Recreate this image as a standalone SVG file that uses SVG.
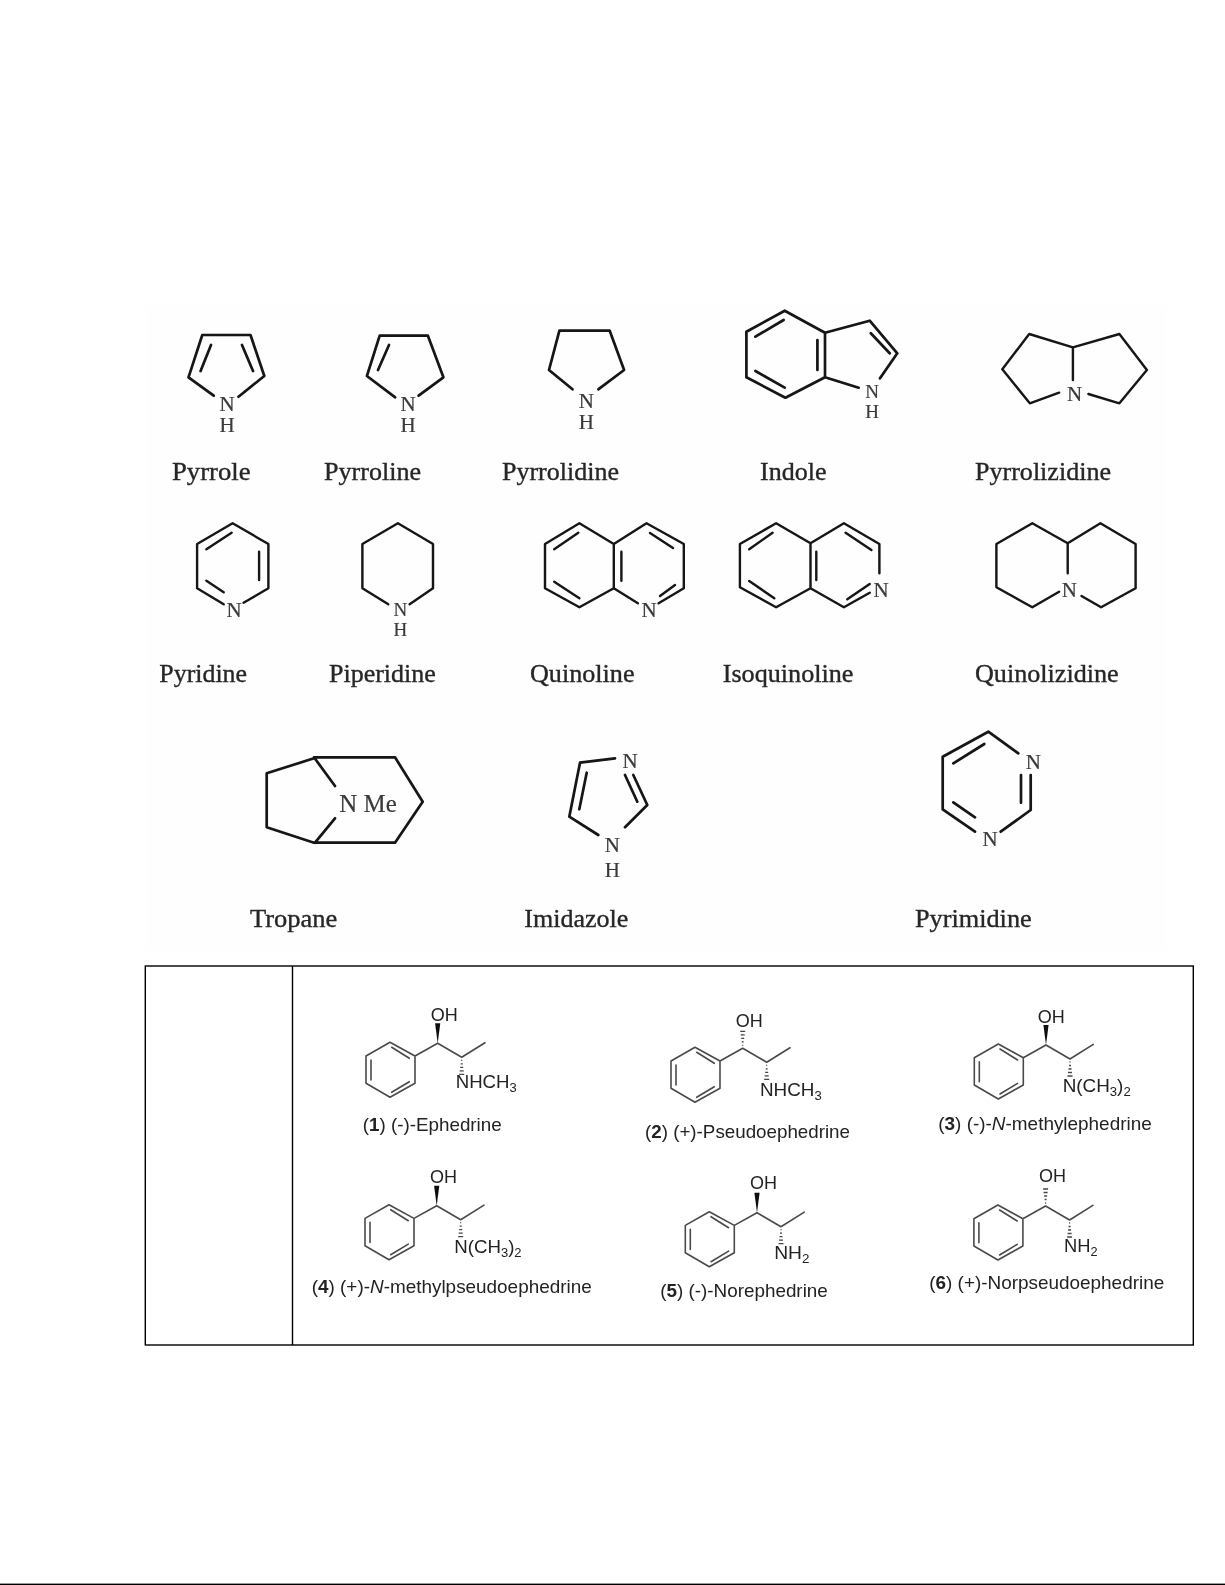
<svg xmlns="http://www.w3.org/2000/svg" width="1225" height="1585" viewBox="0 0 1225 1585">
<style>
.b{fill:none;stroke:#141414;stroke-width:2.7;stroke-linejoin:round;stroke-linecap:round}
.t{stroke-width:2.4}
.a{font-family:"Liberation Serif","Times New Roman",serif;fill:#3a3a3a;stroke:#3a3a3a;stroke-width:.2;font-size:21px;text-anchor:middle}
.a2{font-size:19px}
.l{font-family:"Liberation Serif","Times New Roman",serif;fill:#262626;stroke:#262626;stroke-width:.35;font-size:25px}
.m{fill:none;stroke:#4a4a4a;stroke-width:1.6;stroke-linejoin:round;stroke-linecap:round}
.h{fill:none;stroke:#444;stroke-width:1.3}
.s{font-family:"Liberation Sans",Arial,sans-serif;fill:#222;font-size:18.5px}
.c{font-family:"Liberation Sans",Arial,sans-serif;fill:#222;font-size:18px}
.g{fill:none;stroke:#000;stroke-width:1.4}
</style>
<defs>
<filter id="soft" x="-2%" y="-2%" width="104%" height="104%"><feGaussianBlur stdDeviation="0.5"/></filter>
<g id="ph">
<path class="m" d="M-22.7 12.7L-47.7-1L-71.7 12.7V40L-47.7 54L-22.7 40ZL0 0L24 14L47.3-.6"/>
<path class="m" d="M-46 4L-28.4 15M-66.7 16.7V36.7M-46 49L-28.4 38.4"/>
</g>
<polygon id="wedge" points="0,0 -2.6,-20 2.6,-20" fill="#111"/>
<g id="hash"><path class="h" d="M-.5 3H.5M-1 6.5H1M-1.5 10H1.5M-2 13.5H2M-2.5 17H2.5"/></g>
</defs>
<rect width="1225" height="1585" fill="#fff"/>
<rect x="146" y="306" width="1020" height="644" fill="#fefefe"/>
<g filter="url(#soft)">
<g id="pyrrole">
<path class="b" d="M213.7 395.7L188.5 377.3L202.3 335H250.5L264.3 376L238.5 396.7M211 345L200.6 371M242 345L253 371"/>
<text class="a" x="227" y="411">N</text><text class="a" x="227" y="432">H</text>
<text class="l" x="172" y="480" textLength="78.5" lengthAdjust="spacingAndGlyphs">Pyrrole</text>
</g>
<g id="pyrroline">
<path class="b" d="M395.2 397.3L366.9 376L379.7 335.7H427.9L443.4 377.3L418.6 395.7M389 345L378 370"/>
<text class="a" x="408" y="411">N</text><text class="a" x="408" y="432">H</text>
<text class="l" x="324" y="480" textLength="97" lengthAdjust="spacingAndGlyphs">Pyrroline</text>
</g>
<g id="pyrrolidine">
<path class="b" d="M572.5 389.3L549 370L559.4 330.7H609.7L624.1 370L598.3 389.3"/>
<text class="a" x="586.3" y="408">N</text><text class="a" x="586.3" y="429">H</text>
<text class="l" x="502" y="480" textLength="117" lengthAdjust="spacingAndGlyphs">Pyrrolidine</text>
</g>
<g id="indole">
<path class="b" d="M825 332.7L784.7 310.7L746.4 331.7V377.3L785.4 397.7L825 377.3ZL869.7 320.7L897.3 353.3L880 378.3M825 377.3L858.7 387.7M783.6 320L755.4 336.7M755.4 371L784.7 387.7M817.4 340V370M870.8 333.3L889.7 353.3"/>
<text class="a a2" x="872" y="398">N</text><text class="a a2" x="872" y="418">H</text>
<text class="l" x="760" y="480" textLength="66.5" lengthAdjust="spacingAndGlyphs">Indole</text>
</g>
<g id="pyrrolizidine">
<path class="b t" d="M1059.1 392.7L1029.8 403.3L1002.3 369.3L1029.2 334L1072.9 347.3L1119.4 334L1146.9 370L1119.4 403.3L1088.4 394M1072.9 347.3V380"/>
<text class="a" x="1074.6" y="401">N</text>
<text class="l" x="975" y="480" textLength="136" lengthAdjust="spacingAndGlyphs">Pyrrolizidine</text>
</g>
<g id="pyridine">
<path class="b t" d="M223.7 604.3L197.1 588.3V544L232.6 523.3L268.4 544V588.3L243.6 602.7M231.6 532.7L206.4 549.3M259.1 551.7V580M206.4 580.7L223.7 592.3"/>
<text class="a" x="234" y="616.5">N</text>
<text class="l" x="159.3" y="681.7" textLength="87.7" lengthAdjust="spacingAndGlyphs">Pyridine</text>
</g>
<g id="piperidine">
<path class="b t" d="M388.3 604.3L362.4 588.3V544L397.9 523.3L433 544V588.3L409.6 604.3"/>
<text class="a a2" x="400.3" y="616">N</text><text class="a a2" x="400.3" y="636">H</text>
<text class="l" x="329" y="681.7" textLength="106.8" lengthAdjust="spacingAndGlyphs">Piperidine</text>
</g>
<g id="quinoline">
<path class="b t" d="M613.8 544L579.4 523.3L545 544V588.3L579.4 607.3L613.8 588.3ZL646.5 523.3L683.8 544V588.3L658.6 603.3M613.8 588.3L637.9 603.3M578.3 532.7L554.2 549.3M554.2 581.7L579.4 598.3M621.4 551.7V580.7M650 533L673 548M660 596L675 585"/>
<text class="a" x="649" y="617">N</text>
<text class="l" x="530" y="681.7" textLength="104.5" lengthAdjust="spacingAndGlyphs">Quinoline</text>
</g>
<g id="isoquinoline">
<path class="b t" d="M810.5 543.3L776.1 523.3L739.9 544V587.3L776.1 607.3L810.5 588.3ZL843.9 523.3L879.4 544V573.3M810.5 588.3L843.9 607.3L869.7 592.7M847.3 599.3L869.7 584M772.6 532.7L749.2 549.3M749.2 581L774.3 598.3M816.3 551.7V580M845.6 532.7L871.4 550"/>
<text class="a" x="881" y="597">N</text>
<text class="l" x="722.7" y="681.7" textLength="130.8" lengthAdjust="spacingAndGlyphs">Isoquinoline</text>
</g>
<g id="quinolizidine">
<path class="b t" d="M1059.1 591.7L1032.3 607.3L996.4 587.3V544L1032.3 523.3L1067.7 543.3L1100.4 523.3L1135.6 544V588.3L1101.1 607.3L1081.5 596M1067.7 543.3V573.3"/>
<text class="a" x="1069.4" y="597">N</text>
<text class="l" x="975" y="681.7" textLength="143.7" lengthAdjust="spacingAndGlyphs">Quinolizidine</text>
</g>
<g id="tropane">
<path class="b" d="M314 758.3L266.7 773.3V827.3L314 842.7H395L422.7 801.7L395 757.3H314L335 786M315 842.7L335 818.3"/>
<text x="339.3" y="811.7" font-family="'Liberation Serif',serif" font-size="26" fill="#3a3a3a" stroke="#3a3a3a" stroke-width=".2" textLength="57.4" lengthAdjust="spacingAndGlyphs">N Me</text>
<text class="l" x="250" y="927.3" textLength="87.3" lengthAdjust="spacingAndGlyphs">Tropane</text>
</g>
<g id="imidazole">
<path class="b" d="M615 758.3L580 762.7L569.3 816.7L598.3 835M625 827.3L647.3 805L633.3 775M625 775L637.3 801.7M586.7 772.7L579.3 809.3"/>
<text class="a" x="630" y="768">N</text><text class="a" x="612.3" y="852">N</text><text class="a" x="612.3" y="877">H</text>
<text class="l" x="524.3" y="927.3" textLength="104" lengthAdjust="spacingAndGlyphs">Imidazole</text>
</g>
<g id="pyrimidine">
<path class="b" d="M1018.3 753.3L988.3 731.7L942.7 756.7V809.3L975 831.7M1000.7 831.7L1030.7 810V775M984.3 744L953.3 763.3M953.3 802.3L975 817.3M1021 775V802.7"/>
<text class="a" x="1033.3" y="769">N</text><text class="a" x="990" y="846">N</text>
<text class="l" x="915" y="927.3" textLength="116.7" lengthAdjust="spacingAndGlyphs">Pyrimidine</text>
</g>
</g>
<g id="table">
<rect class="g" x="145.3" y="966" width="1048" height="379"/>
<line class="g" x1="292.5" y1="966" x2="292.5" y2="1345"/>
</g>
<g filter="url(#soft)">
<g id="ephedrine">
<use href="#ph" x="437.7" y="1043.3"/><use href="#wedge" x="437.7" y="1043.3"/><use href="#hash" x="461.7" y="1057.3"/>
<text class="c" x="430.7" y="1021">OH</text>
<text class="c" x="455.7" y="1088.3" textLength="61" lengthAdjust="spacingAndGlyphs">NHCH<tspan font-size="12.5" dy="4">3</tspan></text>
<text class="s" x="362.7" y="1130.7" textLength="139" lengthAdjust="spacingAndGlyphs">(<tspan font-weight="bold">1</tspan>) (-)-Ephedrine</text>
</g>
<g id="pseudoephedrine">
<use href="#ph" x="742.7" y="1048.3"/><use href="#hash" transform="translate(742.7 1048.3) scale(1 -1)"/><use href="#hash" x="766.7" y="1062.3"/>
<text class="c" x="735.7" y="1026.7">OH</text>
<text class="c" x="760" y="1095.7" textLength="61.7" lengthAdjust="spacingAndGlyphs">NHCH<tspan font-size="12.5" dy="4">3</tspan></text>
<text class="s" x="645" y="1138.3" textLength="205" lengthAdjust="spacingAndGlyphs">(<tspan font-weight="bold">2</tspan>) (+)-Pseudoephedrine</text>
</g>
<g id="n-methylephedrine">
<use href="#ph" x="1046" y="1045"/><use href="#wedge" x="1046" y="1045"/><use href="#hash" x="1070" y="1059"/>
<text class="c" x="1037.7" y="1022.7">OH</text>
<text class="c" x="1062.7" y="1091.7" textLength="68" lengthAdjust="spacingAndGlyphs">N(CH<tspan font-size="12.5" dy="4">3</tspan><tspan dy="-4">)</tspan><tspan font-size="12.5" dy="4">2</tspan></text>
<text class="s" x="938.3" y="1130" textLength="213.4" lengthAdjust="spacingAndGlyphs">(<tspan font-weight="bold">3</tspan>) (-)-<tspan font-style="italic">N</tspan>-methylephedrine</text>
</g>
<g id="n-methylpseudoephedrine">
<use href="#ph" x="436.7" y="1205.7"/><use href="#wedge" x="436.7" y="1205.7"/><use href="#hash" x="460.7" y="1219.7"/>
<text class="c" x="430" y="1183.3">OH</text>
<text class="c" x="454.3" y="1253.3" textLength="67.3" lengthAdjust="spacingAndGlyphs">N(CH<tspan font-size="12.5" dy="4">3</tspan><tspan dy="-4">)</tspan><tspan font-size="12.5" dy="4">2</tspan></text>
<text class="s" x="311.7" y="1292.7" textLength="280" lengthAdjust="spacingAndGlyphs">(<tspan font-weight="bold">4</tspan>) (+)-<tspan font-style="italic">N</tspan>-methylpseudoephedrine</text>
</g>
<g id="norephedrine">
<use href="#ph" x="757" y="1212.7"/><use href="#wedge" x="757" y="1212.7"/><use href="#hash" x="781" y="1226.7"/>
<text class="c" x="750" y="1189.3">OH</text>
<text class="c" x="774.2" y="1259" textLength="35.2" lengthAdjust="spacingAndGlyphs">NH<tspan font-size="12.5" dy="4">2</tspan></text>
<text class="s" x="660.2" y="1296.7" textLength="167.6" lengthAdjust="spacingAndGlyphs">(<tspan font-weight="bold">5</tspan>) (-)-Norephedrine</text>
</g>
<g id="norpseudoephedrine">
<use href="#ph" x="1045.6" y="1206"/><use href="#hash" transform="translate(1045.6 1206) scale(1 -1)"/><use href="#hash" x="1069.6" y="1220"/>
<text class="c" x="1039" y="1182.3">OH</text>
<text class="c" x="1064" y="1252.3" textLength="33.6" lengthAdjust="spacingAndGlyphs">NH<tspan font-size="12.5" dy="4">2</tspan></text>
<text class="s" x="929.2" y="1289.3" textLength="235" lengthAdjust="spacingAndGlyphs">(<tspan font-weight="bold">6</tspan>) (+)-Norpseudoephedrine</text>
</g>
</g>
<rect id="page-edge" y="1583.6" width="1225" height="1.4" fill="#000"/>
</svg>
